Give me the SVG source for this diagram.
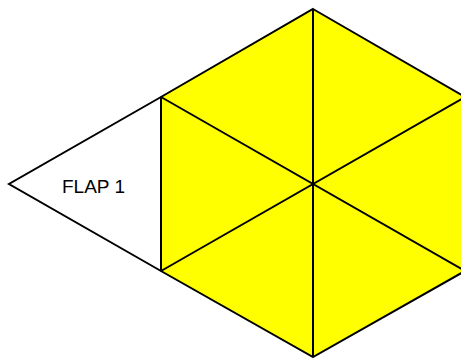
<svg xmlns="http://www.w3.org/2000/svg" width="461" height="358" viewBox="0 0 461 358">
<style>
.e{stroke:#000;stroke-width:2;stroke-linejoin:miter;fill:none}
.y{fill:#ffff00}
.t{font-family:"Liberation Sans",Arial,sans-serif;font-size:19px;fill:#000}
</style>
<rect width="461" height="358" fill="#fff"/>
<g id="hexagon">
<polygon class="y" points="313,9 465,97 465,271 313,357 161,271 161,97"/>
</g>
<g id="flap1">
<polygon points="9,184 161,97 161,271" fill="#fff"/>
<text class="t" x="62" y="193">FLAP 1</text>
</g>
<g id="connectors">
<polygon class="e" points="313,9 465,97 465,271 313,357 161,271 161,97"/>
<polyline class="e" points="161,97 9,184 161,271"/>
<line class="e" x1="313" y1="9" x2="313" y2="357"/>
<line class="e" x1="161" y1="97" x2="465" y2="271"/>
<line class="e" x1="161" y1="271" x2="465" y2="97"/>
</g>
</svg>
